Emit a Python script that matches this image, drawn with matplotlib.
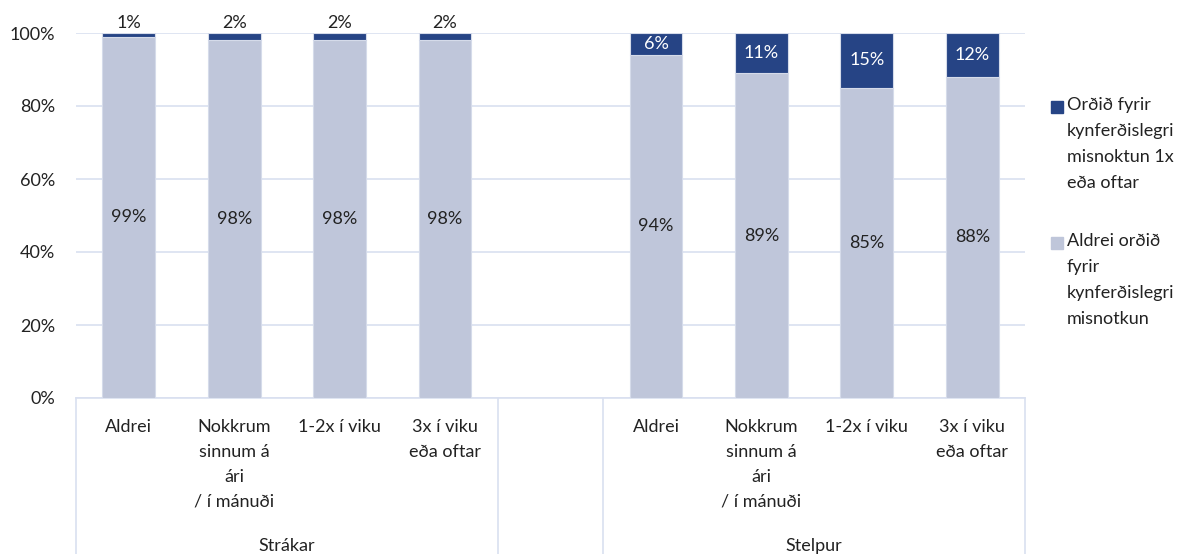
import numpy as np
import matplotlib.pyplot as plt
from matplotlib.patches import Rectangle
from matplotlib.lines import Line2D
from matplotlib.transforms import blended_transform_factory

plt.rcParams['font.family'] = ['Lato', 'DejaVu Sans']

# data
groups = ['Strákar', 'Stelpur']
categories = ['Aldrei', 'Nokkrum\nsinnum á\nári\n/ í mánuði', '1-2x í viku', '3x í viku\neða oftar']
never = {'Strákar': [99, 98, 98, 98], 'Stelpur': [94, 89, 85, 88]}
once_or_more = {'Strákar': [1, 2, 2, 2], 'Stelpur': [6, 11, 15, 12]}
legend_labels = ['Orðið fyrir\nkynferðislegri\nmisnoktun 1x\neða oftar',
                 'Aldrei orðið\nfyrir\nkynferðislegri\nmisnotkun']

dark = '#264485'
light = '#BFC6DA'
grid_c = '#D9E0F0'
fs = 13

W, H = 1194, 554
fig = plt.figure(figsize=(W / 100, H / 100), dpi=100)
ax = fig.add_axes([76 / W, 1 - 398 / H, (1025 - 76) / W, (398 - 33) / H])

# slot positions: group 1 -> 0..3, blank slot 4, group 2 -> 5..8
pos = {'Strákar': np.arange(4), 'Stelpur': np.arange(4) + 5}

for g in groups:
    x = pos[g]
    lo = np.array(never[g])
    hi = np.array(once_or_more[g])
    ax.bar(x, lo, width=0.5, color=light, edgecolor='#D5DBEA', linewidth=0.8, zorder=3)
    ax.bar(x, hi, bottom=lo, width=0.5, color=dark, edgecolor='#D5DBEA', linewidth=0.8, zorder=3)
    for xi, a, b in zip(x, lo, hi):
        ax.text(xi, a / 2, f'{a}%', ha='center', va='center', fontsize=fs, color='#222222', zorder=4)
        if g == 'Strákar':
            ax.text(xi, 100.6, f'{b}%', ha='center', va='bottom', fontsize=fs, color='#222222',
                    clip_on=False, zorder=4)
        else:
            ax.text(xi, a + b / 2, f'{b}%', ha='center', va='center', fontsize=fs, color='white', zorder=4)

ax.set_xlim(-0.5, 8.5)
ax.set_ylim(0, 100)
ax.set_yticks(np.arange(0, 101, 20))
ax.set_yticklabels([f'{v}%' for v in range(0, 101, 20)], fontsize=fs, color='#222222')
ax.tick_params(axis='y', length=0, pad=15)
ax.set_xticks([])
ax.grid(axis='y', color=grid_c, linewidth=1.2, zorder=0)
for s in ['top', 'right', 'left']:
    ax.spines[s].set_visible(False)
ax.spines['bottom'].set_color(grid_c)
ax.spines['bottom'].set_linewidth(1.2)

# multi-level category axis
tr = blended_transform_factory(ax.transData, fig.transFigure)
y_axis = 1 - 398 / H
for g in groups:
    for xi, c in zip(pos[g], categories):
        ax.text(xi, 1 - 419 / H, c, transform=tr, ha='center', va='top', fontsize=fs,
                color='#222222', linespacing=1.68)
    ax.text(pos[g].mean(), 1 - 546 / H, g, transform=tr, ha='center', va='center',
            fontsize=fs, color='#222222')
for xs in [-0.5, 3.5, 4.5, 8.5]:
    fig.add_artist(Line2D([xs, xs], [0, y_axis], transform=tr, color=grid_c, linewidth=1.2))

# legend
for i, (lab, col) in enumerate(zip(legend_labels, [dark, light])):
    yc = [107, 243][i]
    fig.add_artist(Rectangle((1051 / W, 1 - (yc + 6) / H), 12 / W, 12 / H,
                             transform=fig.transFigure, color=col))
    fig.text(1067 / W, 1 - (yc - 10) / H, lab, ha='left', va='top', fontsize=fs,
             color='#222222', linespacing=1.78)

fig.savefig('out.png', dpi=100)
